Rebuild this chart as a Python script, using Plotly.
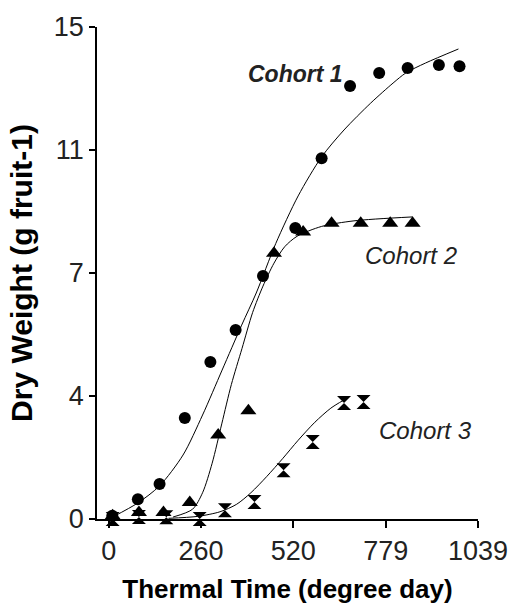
import plotly.graph_objects as go

# ---- data ----
c1_x = [10, 82, 143, 214, 286, 357, 434, 525, 599, 679, 761, 841, 929, 987]
c1_y = [0.1, 0.6, 1.07, 3.08, 4.79, 5.76, 7.41, 8.87, 11.0, 13.2, 13.6, 13.75, 13.84, 13.8]

c2_x = [11, 85, 154, 228, 308, 393, 465, 547, 627, 709, 792, 855]
c2_y = [0.1, 0.2, 0.2, 0.5, 2.56, 3.3, 8.1, 8.75, 9.02, 9.02, 9.02, 9.02]

c3_x = [11, 85, 162, 256, 327, 410, 492, 574, 662, 717]
c3_y = [0.0, 0.06, 0.05, 0.0, 0.27, 0.52, 1.49, 2.35, 3.54, 3.57]

fit1_x = [11, 82, 143, 209, 264, 319, 374, 415, 470, 533, 599, 662, 737, 800, 836, 891, 984]
fit1_y = [0.06, 0.49, 1.01, 1.95, 3.17, 4.54, 5.91, 6.89, 8.4, 9.85, 11.04, 11.86, 12.68, 13.29, 13.6, 13.9, 14.33]

fit2_x = [181, 236, 264, 291, 318, 345, 375, 405, 434, 465, 495, 530, 599, 690, 855]
fit2_y = [0.06, 0.3, 0.8, 1.7, 2.9, 4.1, 5.2, 6.3, 7.1, 7.8, 8.3, 8.62, 8.92, 9.09, 9.21]

fit3_x = [168, 250, 313, 360, 400, 445, 490, 533, 580, 625, 662]
fit3_y = [0.02, 0.08, 0.22, 0.45, 0.8, 1.3, 1.85, 2.4, 2.95, 3.38, 3.63]

x_ticks = [0, 259.75, 519.5, 779.25, 1039]
x_tick_text = ["0", "260", "520", "779", "1039"]
y_ticks = [0, 3.75, 7.5, 11.25, 15]
y_tick_text = ["0", "4", "7", "11", "15"]

labels = ["Cohort 1", "Cohort 2", "Cohort 3"]
label_x = [526, 850, 892]
label_y = [13.57, 8.02, 2.71]

FONT = "Liberation Sans, Arial, sans-serif"

fig = go.Figure()
for fx, fy in [(fit1_x, fit1_y), (fit2_x, fit2_y), (fit3_x, fit3_y)]:
    fig.add_trace(go.Scatter(x=fx, y=fy, mode="lines",
                             line=dict(color="black", width=1, shape="spline", smoothing=0.8),
                             showlegend=False, hoverinfo="skip", cliponaxis=False))

fig.add_trace(go.Scatter(x=c1_x, y=c1_y, mode="markers", marker=dict(symbol="circle", size=12, color="black"),
                         showlegend=False, cliponaxis=False))
fig.add_trace(go.Scatter(x=c2_x, y=c2_y, mode="markers", marker=dict(symbol="triangle-up", size=14, color="black"),
                         showlegend=False, cliponaxis=False))
fig.add_trace(go.Scatter(x=c3_x, y=c3_y, mode="markers", marker=dict(symbol="hourglass", size=14, color="black"),
                         showlegend=False, cliponaxis=False))

for i, (t, lx, ly) in enumerate(zip(labels, label_x, label_y)):
    txt = "<b><i>%s</i></b>" % t if i == 0 else "<i>%s</i>" % t
    fig.add_annotation(x=lx, y=ly, text=txt, showarrow=False,
                       font=dict(family=FONT, size=23 if i == 0 else 24, color="#222"))

fig.update_layout(
    width=520, height=612,
    margin=dict(l=97, r=33, t=27, b=93),
    plot_bgcolor="white", paper_bgcolor="white",
    xaxis=dict(range=[-33, 1039], tickvals=x_ticks, ticktext=x_tick_text,
               showgrid=False, zeroline=False, showline=True, linecolor="black", linewidth=1.5,
               ticks="outside", ticklen=7, tickcolor="black", tickwidth=1.5,
               tickfont=dict(family=FONT, size=27, color="#222"),
               title=dict(text="<b>Thermal Time (degree day)</b>", font=dict(family=FONT, size=26, color="black"),
                          standoff=15)),
    yaxis=dict(range=[0, 15], tickvals=y_ticks, ticktext=y_tick_text,
               showgrid=False, zeroline=False, showline=True, linecolor="black", linewidth=1.5,
               ticks="outside", ticklen=6, tickcolor="black", tickwidth=1.5,
               tickfont=dict(family=FONT, size=27, color="#222"),
               title=dict(text="<b>Dry Weight (g fruit-1)</b>", font=dict(family=FONT, size=30, color="black"),
                          standoff=12)),
)

fig.write_html("out.html")
